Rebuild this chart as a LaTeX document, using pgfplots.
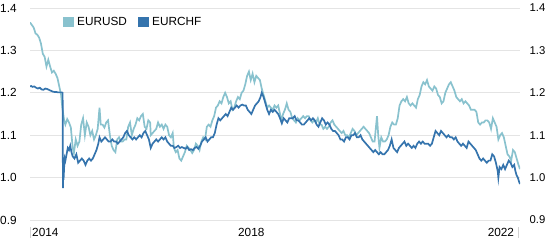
\documentclass[border=0pt]{standalone}
\usepackage{pgfplots}
\pgfplotsset{compat=1.18}
\usepackage{fontspec}
\setmainfont{Liberation Sans}
\definecolor{usd}{RGB}{137,194,206}
\definecolor{chf}{RGB}{53,116,173}
\definecolor{gridc}{RGB}{228,228,228}
\begin{document}
\begin{tikzpicture}
\useasboundingbox (-30bp,-21bp) rectangle (516bp,220bp);
\pgfplotsset{
  common/.style={
    scale only axis, width=490bp, height=212bp,
    xmin=0.5, xmax=8.535, ymin=0.9, ymax=1.4,
    ytick={0.9,1.0,1.1,1.2,1.3,1.4},
    yticklabels={0.9,1.0,1.1,1.2,1.3,1.4},
    axis line style={draw=none}, major tick length=0pt,
    /pgf/number format/assume math mode=true,
    tick label style={font=\fontsize{11.8bp}{13bp}\selectfont, inner sep=0pt},
  }
}
% x = years after 1 January 2014
\begin{axis}[common,
  ymajorgrids, grid style={gridc, line width=0.8bp},
  yticklabel style={anchor=west, xshift=-30bp},
  xtick={0.533,3.91,8.003},
  xticklabels={2014,2018,2022},
  xticklabel style={anchor=north west, yshift=-8bp},
  legend style={at={(0.0673,0.934)}, anchor=west, draw=none, fill=none,
    inner sep=0pt, outer sep=0pt, legend columns=2,
    font=\fontsize{11.8bp}{13bp}\selectfont,
    nodes={inner sep=0pt},
    /tikz/every odd column/.append style={column sep=3bp},
    /tikz/every even column/.append style={column sep=11bp}},
  legend image code/.code={\fill[#1] (0bp,-4.5bp) rectangle (9.5bp,4.5bp);},
]
\addplot[usd, line width=1.7bp] coordinates {
(0.50,1.366) (0.52,1.362) (0.53,1.360) (0.56,1.354) (0.58,1.345) (0.59,1.340) (0.62,1.337) (0.65,1.330) (0.68,1.316) (0.71,1.292) (0.74,1.285) (0.77,1.262) (0.80,1.278) (0.83,1.262) (0.86,1.248) (0.89,1.252) (0.92,1.245) (0.95,1.235) (0.98,1.215)
(1.01,1.195) (1.03,1.165) (1.06,1.135) (1.08,1.125) (1.11,1.138) (1.14,1.130) (1.17,1.118) (1.20,1.070) (1.22,1.058) (1.25,1.090) (1.28,1.075) (1.31,1.085) (1.34,1.125) (1.37,1.140) (1.40,1.100) (1.43,1.130) (1.46,1.120) (1.49,1.100) (1.52,1.110) (1.55,1.090) (1.58,1.100) (1.61,1.115) (1.64,1.165) (1.66,1.125) (1.69,1.125) (1.72,1.118) (1.75,1.130) (1.78,1.135) (1.81,1.100) (1.84,1.075) (1.87,1.065) (1.90,1.060) (1.93,1.090) (1.96,1.095) (1.99,1.085)
(2.02,1.085) (2.05,1.090) (2.08,1.090) (2.11,1.120) (2.14,1.130) (2.17,1.100) (2.20,1.115) (2.23,1.125) (2.26,1.140) (2.29,1.135) (2.32,1.145) (2.35,1.150) (2.38,1.120) (2.41,1.115) (2.44,1.135) (2.47,1.130) (2.48,1.100) (2.51,1.105) (2.54,1.110) (2.57,1.115) (2.60,1.130) (2.63,1.120) (2.66,1.125) (2.69,1.115) (2.72,1.125) (2.75,1.120) (2.78,1.100) (2.81,1.095) (2.84,1.105) (2.86,1.070) (2.89,1.060) (2.92,1.065) (2.95,1.045) (2.98,1.040)
(3.01,1.050) (3.04,1.060) (3.07,1.075) (3.10,1.070) (3.13,1.065) (3.16,1.058) (3.19,1.065) (3.22,1.080) (3.25,1.075) (3.28,1.065) (3.31,1.085) (3.34,1.095) (3.37,1.090) (3.40,1.120) (3.43,1.125) (3.46,1.120) (3.49,1.135) (3.52,1.145) (3.55,1.165) (3.58,1.170) (3.61,1.180) (3.64,1.175) (3.67,1.190) (3.70,1.200) (3.73,1.190) (3.76,1.175) (3.79,1.180) (3.82,1.160) (3.85,1.165) (3.88,1.180) (3.91,1.190) (3.94,1.185) (3.97,1.200)
(4.00,1.205) (4.03,1.220) (4.06,1.240) (4.09,1.250) (4.12,1.230) (4.15,1.245) (4.18,1.225) (4.21,1.240) (4.24,1.235) (4.27,1.230) (4.30,1.210) (4.33,1.195) (4.36,1.180) (4.39,1.165) (4.42,1.170) (4.45,1.165) (4.48,1.160) (4.51,1.170) (4.54,1.165) (4.57,1.170) (4.60,1.150) (4.62,1.135) (4.65,1.150) (4.68,1.160) (4.71,1.175) (4.74,1.160) (4.77,1.155) (4.80,1.140) (4.83,1.135) (4.86,1.130) (4.89,1.140) (4.92,1.135) (4.95,1.140) (4.98,1.145)
(5.01,1.140) (5.04,1.145) (5.07,1.145) (5.10,1.135) (5.13,1.130) (5.16,1.135) (5.19,1.130) (5.22,1.140) (5.25,1.125) (5.28,1.125) (5.31,1.115) (5.34,1.120) (5.37,1.115) (5.40,1.120) (5.43,1.130) (5.46,1.135) (5.49,1.125) (5.52,1.120) (5.55,1.115) (5.58,1.110) (5.61,1.105) (5.64,1.110) (5.67,1.100) (5.70,1.100) (5.73,1.095) (5.76,1.105) (5.79,1.115) (5.82,1.110) (5.85,1.100) (5.88,1.105) (5.91,1.110) (5.94,1.115) (5.97,1.120)
(6.00,1.115) (6.03,1.110) (6.06,1.105) (6.09,1.095) (6.12,1.085) (6.15,1.085) (6.18,1.130) (6.19,1.145) (6.21,1.100) (6.23,1.070) (6.26,1.095) (6.29,1.085) (6.32,1.085) (6.35,1.090) (6.38,1.100) (6.41,1.120) (6.44,1.130) (6.47,1.125) (6.50,1.125) (6.53,1.140) (6.56,1.170) (6.59,1.180) (6.62,1.185) (6.65,1.180) (6.68,1.190) (6.71,1.175) (6.74,1.170) (6.77,1.175) (6.80,1.170) (6.83,1.165) (6.86,1.185) (6.89,1.195) (6.92,1.215) (6.95,1.225) (6.98,1.220)
(7.01,1.230) (7.04,1.215) (7.07,1.210) (7.10,1.205) (7.13,1.215) (7.16,1.210) (7.19,1.195) (7.22,1.190) (7.25,1.175) (7.28,1.180) (7.31,1.200) (7.34,1.210) (7.37,1.220) (7.40,1.225) (7.43,1.215) (7.46,1.205) (7.49,1.190) (7.52,1.185) (7.55,1.180) (7.58,1.185) (7.61,1.175) (7.64,1.180) (7.67,1.175) (7.70,1.170) (7.73,1.160) (7.76,1.160) (7.79,1.160) (7.82,1.155) (7.85,1.130) (7.88,1.125) (7.91,1.130) (7.94,1.130) (7.97,1.135)
(8.00,1.135) (8.03,1.130) (8.06,1.115) (8.09,1.140) (8.12,1.130) (8.15,1.120) (8.18,1.090) (8.21,1.100) (8.24,1.105) (8.27,1.095) (8.30,1.075) (8.33,1.055) (8.36,1.050) (8.39,1.040) (8.42,1.065) (8.45,1.060) (8.48,1.045) (8.51,1.030) (8.535,1.020)
};
\addlegendentry{EURUSD}
\addplot[chf, line width=1.7bp] coordinates {
(0.50,1.215) (0.52,1.216) (0.54,1.214) (0.57,1.215) (0.60,1.212) (0.63,1.210) (0.66,1.212) (0.69,1.208) (0.72,1.207) (0.75,1.210) (0.78,1.209) (0.81,1.207) (0.84,1.205) (0.87,1.203) (0.90,1.202) (0.93,1.202) (0.96,1.201) (0.99,1.201)
(1.02,1.201) (1.035,1.200) (1.040,0.975) (1.045,1.010) (1.05,0.995) (1.06,1.025) (1.07,1.045) (1.08,1.040) (1.10,1.055) (1.12,1.070) (1.14,1.065) (1.16,1.075) (1.18,1.060) (1.20,1.050) (1.23,1.045) (1.26,1.055) (1.29,1.035) (1.32,1.040) (1.35,1.045) (1.38,1.040) (1.41,1.030) (1.44,1.040) (1.47,1.045) (1.50,1.040) (1.53,1.045) (1.56,1.055) (1.59,1.065) (1.62,1.080) (1.64,1.095) (1.67,1.085) (1.70,1.090) (1.73,1.095) (1.76,1.090) (1.79,1.085) (1.82,1.085) (1.85,1.090) (1.88,1.085) (1.91,1.085) (1.94,1.080) (1.97,1.085)
(2.00,1.090) (2.03,1.095) (2.06,1.105) (2.09,1.110) (2.12,1.100) (2.15,1.095) (2.18,1.090) (2.21,1.095) (2.24,1.090) (2.27,1.095) (2.30,1.100) (2.33,1.095) (2.36,1.105) (2.39,1.110) (2.42,1.100) (2.45,1.090) (2.48,1.070) (2.51,1.080) (2.54,1.085) (2.57,1.090) (2.60,1.085) (2.63,1.090) (2.66,1.095) (2.69,1.090) (2.72,1.095) (2.75,1.085) (2.78,1.080) (2.81,1.075) (2.84,1.075) (2.87,1.070) (2.90,1.072) (2.93,1.075) (2.96,1.070) (2.99,1.072)
(3.02,1.070) (3.05,1.068) (3.08,1.072) (3.11,1.065) (3.14,1.067) (3.17,1.065) (3.20,1.070) (3.23,1.072) (3.26,1.068) (3.29,1.075) (3.32,1.085) (3.35,1.090) (3.38,1.095) (3.41,1.085) (3.44,1.090) (3.47,1.095) (3.50,1.095) (3.53,1.105) (3.56,1.125) (3.59,1.140) (3.62,1.135) (3.65,1.140) (3.68,1.145) (3.71,1.150) (3.74,1.145) (3.77,1.155) (3.80,1.165) (3.83,1.160) (3.86,1.165) (3.89,1.170) (3.92,1.165) (3.95,1.170) (3.98,1.172)
(4.01,1.170) (4.04,1.170) (4.07,1.160) (4.10,1.155) (4.13,1.150) (4.16,1.160) (4.19,1.170) (4.22,1.175) (4.25,1.180) (4.28,1.190) (4.30,1.200) (4.33,1.190) (4.36,1.175) (4.39,1.160) (4.42,1.150) (4.45,1.160) (4.48,1.155) (4.51,1.160) (4.54,1.155) (4.57,1.150) (4.60,1.140) (4.63,1.128) (4.66,1.140) (4.69,1.135) (4.72,1.130) (4.75,1.140) (4.78,1.140) (4.81,1.140) (4.84,1.145) (4.87,1.135) (4.90,1.135) (4.93,1.130) (4.96,1.125) (4.99,1.125)
(5.02,1.130) (5.05,1.135) (5.08,1.140) (5.11,1.135) (5.14,1.140) (5.17,1.135) (5.20,1.125) (5.23,1.120) (5.26,1.130) (5.29,1.140) (5.32,1.135) (5.35,1.125) (5.38,1.130) (5.41,1.125) (5.44,1.115) (5.47,1.110) (5.50,1.110) (5.53,1.105) (5.56,1.100) (5.59,1.090) (5.62,1.090) (5.65,1.085) (5.68,1.095) (5.71,1.095) (5.74,1.090) (5.77,1.100) (5.80,1.100) (5.83,1.105) (5.86,1.095) (5.89,1.095) (5.92,1.100) (5.95,1.090) (5.98,1.085)
(6.01,1.080) (6.04,1.075) (6.07,1.070) (6.10,1.065) (6.13,1.060) (6.16,1.065) (6.19,1.060) (6.22,1.055) (6.25,1.060) (6.28,1.055) (6.31,1.055) (6.34,1.060) (6.37,1.065) (6.40,1.075) (6.43,1.090) (6.46,1.070) (6.49,1.065) (6.52,1.060) (6.55,1.070) (6.58,1.075) (6.61,1.080) (6.64,1.085) (6.67,1.075) (6.70,1.080) (6.73,1.075) (6.76,1.070) (6.79,1.075) (6.82,1.070) (6.85,1.080) (6.88,1.085) (6.91,1.080) (6.94,1.085) (6.97,1.080)
(7.00,1.080) (7.03,1.080) (7.06,1.075) (7.09,1.080) (7.12,1.095) (7.15,1.110) (7.18,1.105) (7.21,1.100) (7.24,1.110) (7.27,1.105) (7.30,1.100) (7.33,1.095) (7.36,1.100) (7.39,1.095) (7.42,1.095) (7.45,1.090) (7.48,1.095) (7.51,1.085) (7.54,1.080) (7.57,1.075) (7.60,1.080) (7.63,1.075) (7.66,1.070) (7.69,1.085) (7.72,1.080) (7.75,1.075) (7.78,1.070) (7.81,1.065) (7.84,1.055) (7.87,1.045) (7.90,1.040) (7.93,1.045) (7.96,1.040) (7.99,1.035)
(8.02,1.040) (8.05,1.040) (8.08,1.055) (8.11,1.050) (8.14,1.035) (8.17,1.015) (8.18,1.000) (8.20,1.025) (8.23,1.020) (8.26,1.030) (8.29,1.020) (8.32,1.030) (8.35,1.040) (8.38,1.035) (8.41,1.025) (8.44,1.030) (8.46,1.015) (8.48,1.005) (8.50,1.000) (8.52,0.990) (8.535,0.985)
};
\addlegendentry{EURCHF}
\end{axis}
\begin{axis}[common,
  axis y line*=right, axis x line=none,
  yticklabel style={anchor=west, xshift=9.5bp, font=\fontsize{11.3bp}{13bp}\selectfont},
]
\end{axis}
\draw[gray!35, line width=0.8bp] (0.7bp,-7bp) -- (0.7bp,-18bp);
\draw[gray!35, line width=0.8bp] (488bp,-7bp) -- (488bp,-18bp);
\end{tikzpicture}
\end{document}
